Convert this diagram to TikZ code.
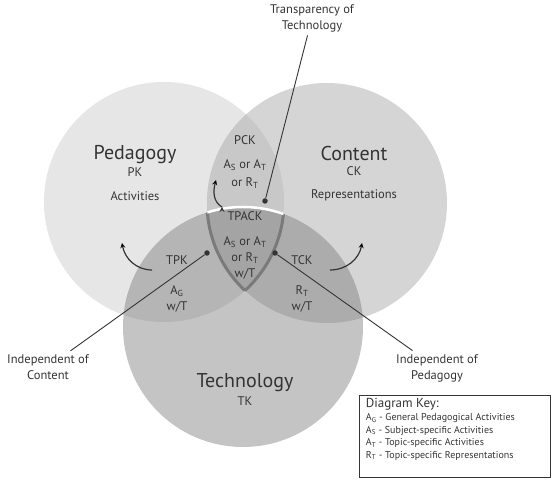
\documentclass[tikz,border=0pt]{standalone}
\usepackage{fontspec}
\setmainfont{PT Sans}
\usetikzlibrary{positioning}

\definecolor{pedfill}{RGB}{230,230,230}
\definecolor{contfill}{RGB}{213,213,213}
\definecolor{techfill}{RGB}{196,196,196}
\definecolor{pcfill}{RGB}{200,200,200}
\definecolor{ptfill}{RGB}{181,181,181}
\definecolor{ctfill}{RGB}{172,172,172}
\definecolor{allfill}{RGB}{164,164,164}
\definecolor{rim}{RGB}{122,122,122}
\definecolor{ink}{RGB}{52,52,52}

\newcommand{\pedcirc}{(164,282) circle (120pt)}
\newcommand{\contcirc}{(327,281) circle (120pt)}
\newcommand{\techcirc}{(243,157) circle (120pt)}

\begin{document}
\begin{tikzpicture}[x=1pt, y=1pt, >=stealth, semithick, node distance=17pt,
  big/.style={font=\fontsize{20}{22}\selectfont, text=ink},
  lbl/.style={font=\fontsize{12.5}{14}\selectfont, text=ink, inner sep=1pt},
  callout/.style={font=\fontsize{12.5}{16}\selectfont, text=ink, align=center},
  dot/.style={circle, fill=ink, inner sep=0pt, minimum size=5.5pt},
  link/.style={draw=ink, line width=0.9pt},
  turn/.style={->, draw=ink, line width=1.2pt},
  keybox/.style={draw=ink, line width=0.8pt, minimum width=191pt, minimum height=82pt, inner sep=0pt},
  keytxt/.style={font=\fontsize{10}{12.5}\selectfont, text=ink, align=left, inner sep=2pt}]
  \useasboundingbox (0,0) rectangle (555,484);

  % the three circles and their overlaps
  \fill [pedfill] \pedcirc;
  \fill [contfill] \contcirc;
  \fill [techfill] \techcirc;
  \begin{scope} \clip \pedcirc; \fill [pcfill] \contcirc; \end{scope}
  \begin{scope} \clip \pedcirc; \fill [ptfill] \techcirc; \end{scope}
  \begin{scope} \clip \contcirc; \fill [ctfill] \techcirc; \end{scope}
  \begin{scope} \clip \pedcirc; \clip \contcirc; \fill [allfill] \techcirc; \end{scope}

  % TPACK outline
  \begin{scope} \clip \techcirc; \clip \pedcirc; \draw [rim, line width=3pt] \contcirc; \end{scope}
  \begin{scope} \clip \techcirc; \clip \contcirc; \draw [rim, line width=3pt] \pedcirc; \end{scope}
  \begin{scope} \clip \pedcirc; \clip \contcirc; \draw [white, line width=2.5pt] \techcirc; \end{scope}

  % circle labels
  \node [big] (ped) at (135,329) {Pedagogy};
  \node [lbl] (pk) [below of=ped] {PK};
  \node [lbl] (act) [below of=pk, node distance=24pt] {Activities};
  \node [big] (cont) at (354,330) {Content};
  \node [lbl] (ck) [below of=cont] {CK};
  \node [lbl] (rep) [below of=ck, node distance=24pt] {Representations};
  \node [big] (tech) at (245,101) {Technology};
  \node [lbl] (tk) [below of=tech, node distance=18pt] {TK};

  % overlap labels
  \node [lbl] (pck) at (245,344) {PCK};
  \node [lbl] (pcka) [below of=pck, node distance=25pt] {A\textsubscript{S} or A\textsubscript{T}};
  \node [lbl] (pckb) [below of=pcka, node distance=18pt] {or R\textsubscript{T}};
  \node [lbl] (tpack) at (245,268) {TPACK};
  \node [lbl] (tpacka) [below of=tpack, node distance=26pt] {A\textsubscript{S} or A\textsubscript{T}};
  \node [lbl] (tpackb) [below of=tpacka, node distance=16pt] {or R\textsubscript{T}};
  \node [lbl] (tpackc) [below of=tpackb, node distance=16pt] {w/T};
  \node [lbl] (tpk) at (177,224) {TPK};
  \node [lbl] (tpka) [below of=tpk, node distance=31pt] {A\textsubscript{G}};
  \node [lbl] (tpkb) [below of=tpka, node distance=16pt] {w/T};
  \node [lbl] (tck) at (302,224) {TCK};
  \node [lbl] (tcka) [below of=tck, node distance=31pt] {R\textsubscript{T}};
  \node [lbl] (tckb) [below of=tcka, node distance=16pt] {w/T};

  % callouts
  \node [callout] (transp) at (312,466) {Transparency of\\Technology};
  \node [callout] (indc) at (48,117) {Independent of\\Content};
  \node [callout] (indp) at (437,116) {Independent of\\Pedagogy};
  \node [dot] (dtop) at (265,283) {};
  \node [dot] (dl) at (207,231) {};
  \node [dot] (dr) at (275,231) {};
  \path [link]
  (dtop) edge (transp)
  (dl) edge (indc)
  (dr) edge (indp)
  ;

  % curved arrows
  \coordinate (pa0) at (152,214);
  \coordinate (pa1) at (122,241);
  \coordinate (ca0) at (330,214);
  \coordinate (ca1) at (362,241);
  \coordinate (ka0) at (222,277);
  \coordinate (ka1) at (216,304);
  \path [turn]
  (pa0) edge [out=180, in=-80] (pa1)
  (ca0) edge [out=0, in=-100] (ca1)
  (ka0) edge [out=150, in=-105] (ka1)
  ;

  % key
  \node [keybox] (key) at (454.5,48) {};
  \node [keytxt, anchor=north west] (keyt) at ([xshift=5pt, yshift=-1pt]key.north west)
  {{\fontsize{13}{14}\selectfont Diagram Key:}\\[1pt]
  A\textsubscript{G} - General Pedagogical Activities\\
  A\textsubscript{S} - Subject-specific Activities\\
  A\textsubscript{T} - Topic-specific Activities\\
  R\textsubscript{T} - Topic-specific Representations};
\end{tikzpicture}
\end{document}
